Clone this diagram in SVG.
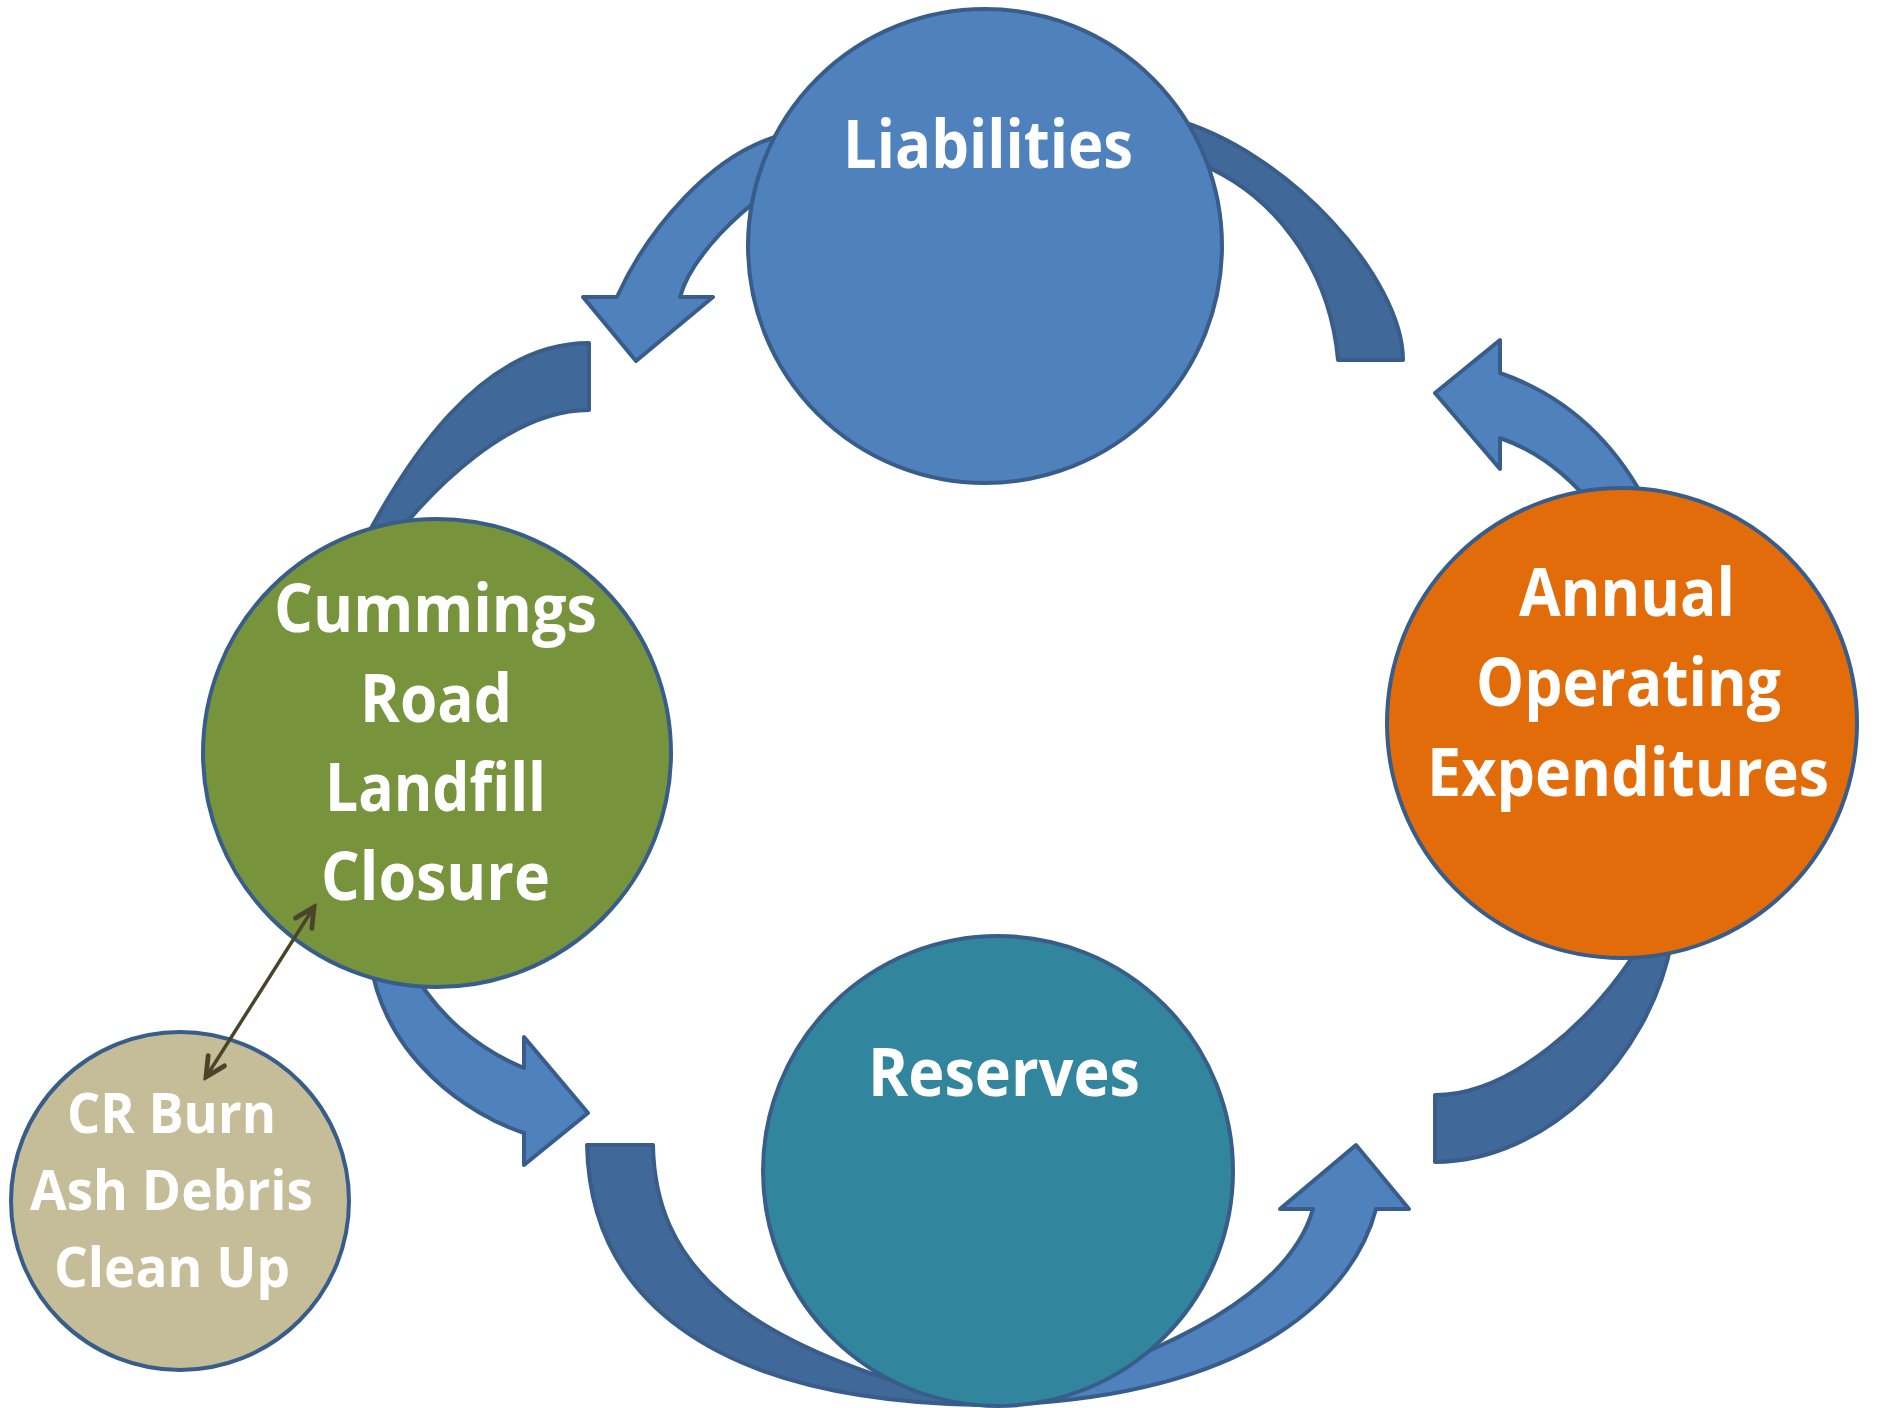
<svg xmlns="http://www.w3.org/2000/svg" width="1879" height="1408" viewBox="0 0 1879 1408">
  <style>
    .arc-light { fill: #4F81BD; stroke: #385D8A; stroke-width: 4; stroke-linejoin: round; }
    .arc-dark { fill: #406898; stroke: #385D8A; stroke-width: 4; stroke-linejoin: round; }
    .node { stroke: #385D8A; stroke-width: 4; }
    .label { font-family: "Open Sans", "Liberation Sans", sans-serif; font-weight: 700; fill: #FFFFFF; }
    .big { font-size: 66px; }
    .small { font-size: 55px; }
    .link { stroke: #4A452A; stroke-width: 3.5; fill: none; }
  </style>
  <defs>
    <marker id="vhead" markerUnits="userSpaceOnUse" markerWidth="30" markerHeight="30" viewBox="-24 -12 28 24" refX="0" refY="0" orient="auto-start-reverse">
      <path d="M -18,-9 L 0,0 L -18,9" fill="none" stroke="#4A452A" stroke-width="4.5" stroke-linecap="round" stroke-linejoin="miter"/>
    </marker>
  </defs>

  <!-- cycle connectors: curved block arrows -->
  <g id="connectors">
    <!-- Liabilities -> Cummings Road (head) -->
    <path class="arc-light" d="M 790,133 C 710,150 645,235 617,297 L 583,297 L 636,361 L 713,297 L 680,297 C 690,260 740,205 790,180 Z"/>
    <!-- Cummings Road tail toward Liabilities -->
    <path class="arc-dark" d="M 589,343 C 479,343 404,465 362,545 L 392,540 C 432,490 509,410 589,410 Z"/>
    <!-- Liabilities tail toward Annual -->
    <path class="arc-dark" d="M 1170,118 C 1290,150 1403,280 1403,360 L 1338,360 C 1330,270 1275,190 1190,160 Z"/>
    <!-- Annual -> Liabilities (head) -->
    <path class="arc-light" d="M 1500,373 C 1555,392 1610,430 1650,510 L 1600,515 C 1570,475 1535,450 1500,438 L 1500,469 L 1435,393 L 1500,340 Z"/>
    <!-- Annual tail toward Reserves -->
    <path class="arc-dark" d="M 1435,1162 C 1545,1162 1650,1060 1672,940 L 1640,945 C 1595,1020 1510,1095 1435,1095 Z"/>
    <!-- Reserves -> Annual (head) -->
    <path class="arc-light" d="M 1376,1209 C 1355,1290 1260,1395 1000,1405 C 1180,1350 1290,1290 1313,1209 L 1280,1209 L 1356,1145 L 1409,1209 Z"/>
    <!-- Reserves tail toward Cummings Road -->
    <path class="arc-dark" d="M 587,1145 C 590,1290 700,1400 980,1405 C 730,1345 655,1260 653,1145 Z"/>
    <!-- Cummings Road -> Reserves (head) -->
    <path class="arc-light" d="M 370,960 C 385,1060 470,1115 524,1133 L 524,1165 L 588,1113 L 524,1037 L 524,1068 C 480,1050 435,1015 410,965 Z"/>
  </g>

  <g id="node-liabilities">
    <circle class="node" cx="985" cy="246" r="237" fill="#4F81BD"/>
    <text class="label big" x="843" y="168" textLength="290" lengthAdjust="spacingAndGlyphs">Liabilities</text>
  </g>

  <g id="node-annual">
    <circle class="node" cx="1622" cy="723" r="235" fill="#E36C0A"/>
    <text class="label big" x="1519" y="616" textLength="216" lengthAdjust="spacingAndGlyphs">Annual</text>
    <text class="label big" x="1476" y="706" textLength="305" lengthAdjust="spacingAndGlyphs">Operating</text>
    <text class="label big" x="1427" y="796" textLength="402" lengthAdjust="spacingAndGlyphs">Expenditures</text>
  </g>

  <g id="node-reserves">
    <circle class="node" cx="998" cy="1171" r="235" fill="#31859C"/>
    <text class="label big" x="868" y="1096" textLength="272" lengthAdjust="spacingAndGlyphs">Reserves</text>
  </g>

  <g id="node-landfill">
    <circle class="node" cx="437" cy="753" r="234" fill="#77933C"/>
    <text class="label big" x="274" y="632" textLength="323" lengthAdjust="spacingAndGlyphs">Cummings</text>
    <text class="label big" x="360" y="722" textLength="152" lengthAdjust="spacingAndGlyphs">Road</text>
    <text class="label big" x="325" y="811" textLength="221" lengthAdjust="spacingAndGlyphs">Landfill</text>
    <text class="label big" x="321" y="900" textLength="229" lengthAdjust="spacingAndGlyphs">Closure</text>
  </g>

  <g id="node-ash">
    <circle class="node" cx="180" cy="1201" r="169" fill="#C4BD97"/>
    <text class="label small" x="67" y="1133" textLength="209" lengthAdjust="spacingAndGlyphs">CR Burn</text>
    <text class="label small" x="30" y="1210" textLength="283" lengthAdjust="spacingAndGlyphs">Ash Debris</text>
    <text class="label small" x="54" y="1287" textLength="236" lengthAdjust="spacingAndGlyphs">Clean Up</text>
  </g>

  <!-- two-way link between the landfill closure and the ash clean-up -->
  <g id="link">
    <line class="link" x1="314" y1="907" x2="206" y2="1077" marker-start="url(#vhead)" marker-end="url(#vhead)"/>
  </g>
</svg>
